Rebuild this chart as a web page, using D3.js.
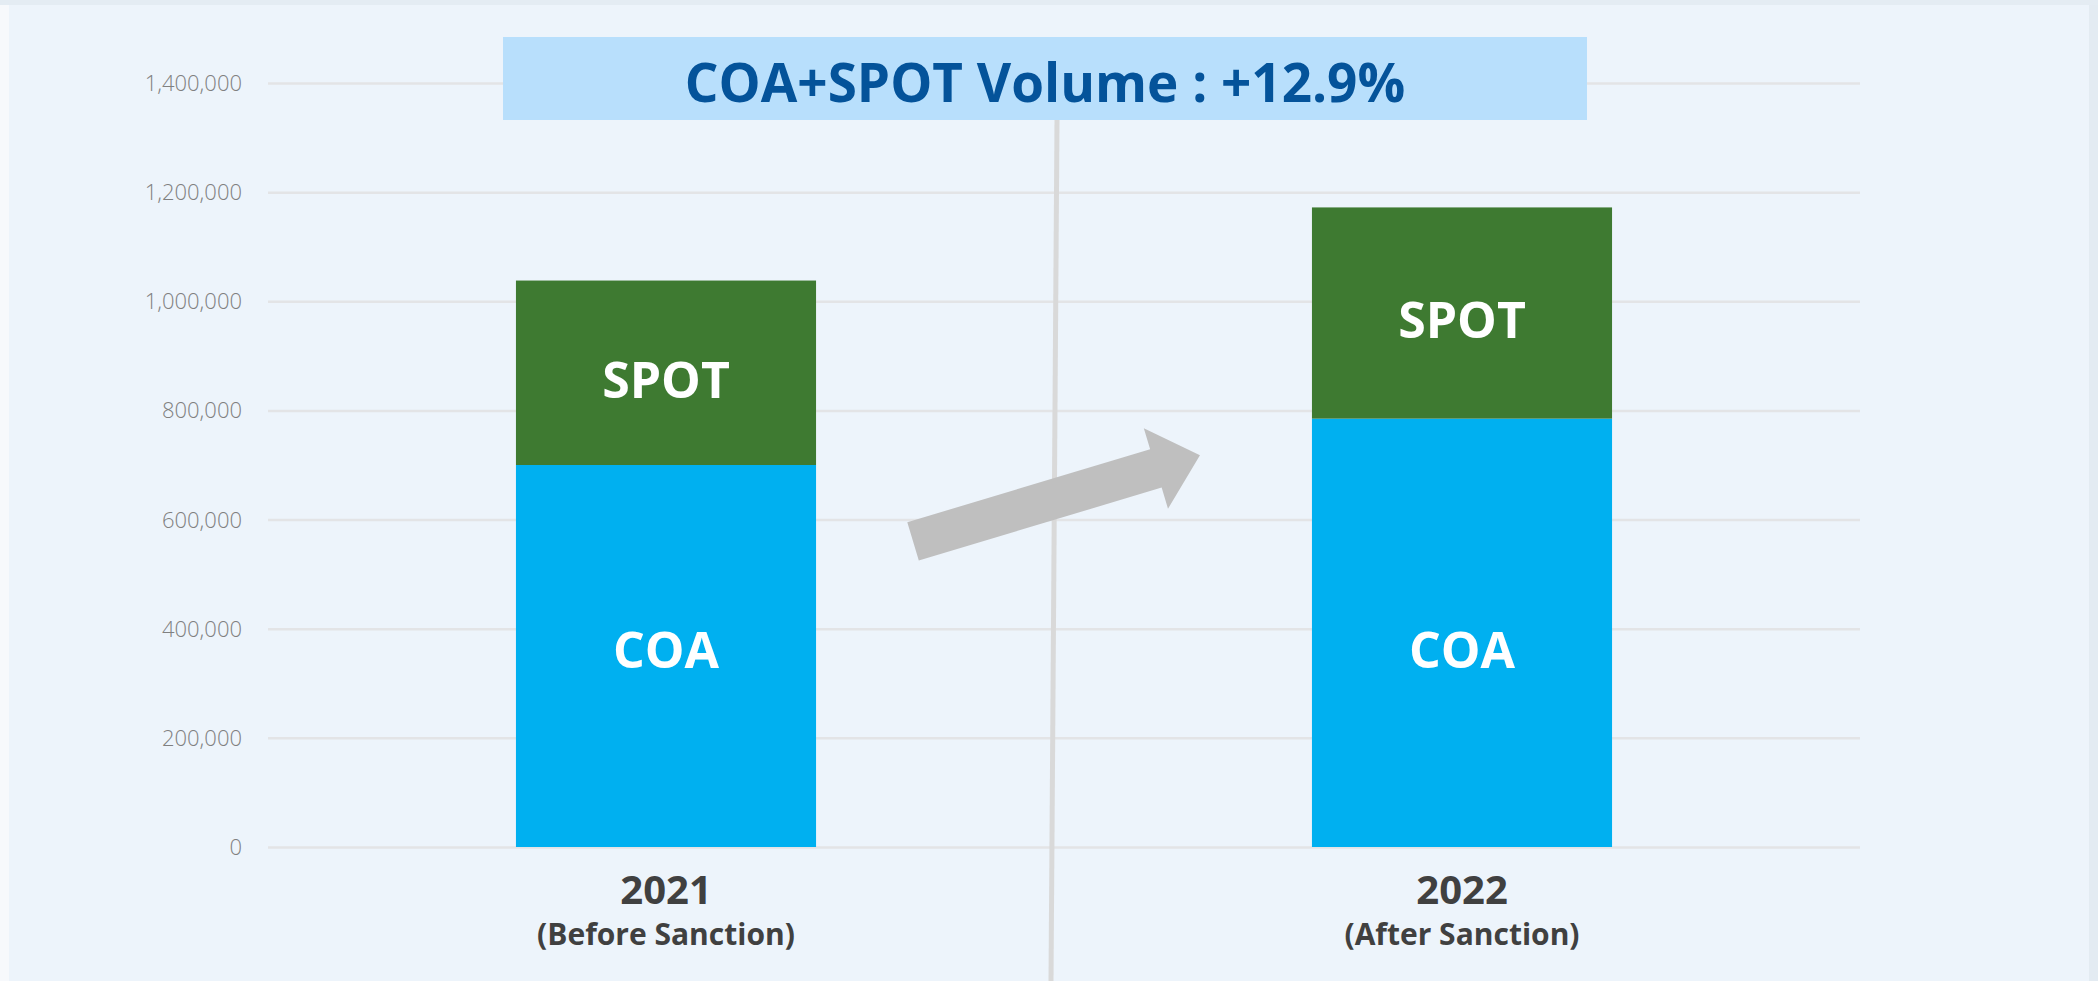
<!DOCTYPE html>
<html>
<head>
<meta charset="utf-8">
<script src="https://cdn.jsdelivr.net/npm/d3@7"></script>
<style>
  body { margin: 0; background: #f7f9fc; overflow: hidden; }
  svg { display: block; font-family: "Open Sans", "Noto Sans", sans-serif; }
</style>
</head>
<body>
<div id="chart"></div>
<script>
const years = ["2021", "2022"];
const periods = ["(Before Sanction)", "(After Sanction)"];
const coaValues = [700000, 785000];
const spotValues = [338000, 387000];
const seriesNames = ["COA", "SPOT"];
const yTickValues = [0, 200000, 400000, 600000, 800000, 1000000, 1200000, 1400000];
const titleText = "COA+SPOT Volume : +12.9%";

const W = 2098, H = 981;
const margin = { top: 83, right: 238, bottom: 134, left: 268 };
const formatNumber = d3.format(",.0f");

const colors = { COA: "#00b0f0", SPOT: "#3e7a31" };

const svg = d3
  .select("#chart")
  .append("svg")
  .attr("width", W)
  .attr("height", H);

// panel background
svg.append("rect")
  .attr("x", 0).attr("y", 0).attr("width", W).attr("height", 5)
  .attr("fill", "#e4ecf3");
svg.append("rect")
  .attr("x", 9).attr("y", 5).attr("width", 2080).attr("height", H - 5)
  .attr("fill", "#edf4fb");
svg.append("rect")
  .attr("x", 2089).attr("y", 5).attr("width", 9).attr("height", H - 5)
  .attr("fill", "#e3ebf2");

const xScale = d3.scaleBand()
  .domain(years)
  .range([margin.left, W - margin.right])
  .paddingInner(0.623)
  .paddingOuter(0.3115);

const yScale = d3.scaleLinear()
  .domain([0, 1400000])
  .range([H - margin.bottom, margin.top]);

const data = years.map((y, i) => ({
  year: y,
  period: periods[i],
  COA: coaValues[i],
  SPOT: spotValues[i],
}));

const stack = d3.stack().keys(seriesNames)(data);

// grid
const yGrid = svg.append("g")
  .attr("transform", "translate(" + margin.left + ",0)")
  .call(d3.axisLeft(yScale).tickValues(yTickValues).tickSize(-(W - margin.left - margin.right)).tickFormat(""));
yGrid.select(".domain").remove();
yGrid.selectAll("line").attr("stroke", "#e3e4e6").attr("stroke-width", 2.5);

// y axis labels
const yAxisG = svg.append("g")
  .attr("transform", "translate(" + (margin.left - 26) + ",0)")
  .call(d3.axisLeft(yScale).tickValues(yTickValues).tickSize(0).tickFormat(formatNumber));
yAxisG.select(".domain").remove();
yAxisG.selectAll("text")
  .attr("x", 0)
  .attr("dy", "0.34em")
  .style("font-family", "'Open Sans', sans-serif")
  .style("font-size", "22px")
  .style("font-weight", 300)
  .attr("fill", "#808080");

// divider between the two periods
const step = xScale.step();
const mid = xScale(years[0]) + xScale.bandwidth() + (step - xScale.bandwidth()) / 2;
svg.append("line")
  .attr("x1", mid - 7).attr("y1", 120)
  .attr("x2", mid - 13).attr("y2", H)
  .attr("stroke", "#d9d9d9")
  .attr("stroke-width", 5);

// bars
const layers = svg.append("g").selectAll("g")
  .data(stack)
  .join("g")
  .attr("fill", (d) => colors[d.key]);

layers.selectAll("rect")
  .data((d) => d)
  .join("rect")
  .attr("x", (d) => xScale(d.data.year))
  .attr("y", (d) => yScale(d[1]))
  .attr("width", xScale.bandwidth())
  .attr("height", (d) => yScale(d[0]) - yScale(d[1]));

// segment labels: COA labels share one line, SPOT labels sit a bit below centre
const coaLabelY = yScale((d3.min(coaValues) + d3.mean(coaValues)) / 4);
stack.forEach((layer) => {
  svg.append("g").selectAll("text")
    .data(layer)
    .join("text")
    .attr("x", (d) => xScale(d.data.year) + xScale.bandwidth() / 2)
    .attr("y", (d) =>
      layer.key === "COA" ? coaLabelY : (yScale(d[0]) + yScale(d[1])) / 2 + 7
    )
    .attr("dy", "0.36em")
    .attr("text-anchor", "middle")
    .attr("fill", "#ffffff")
    .style("font-size", "50px")
    .style("font-weight", 700)
    .text(layer.key);
});

// x labels
const xLab = svg.append("g").selectAll("g")
  .data(data)
  .join("g")
  .attr("transform", (d) => "translate(" + (xScale(d.year) + xScale.bandwidth() / 2) + ",0)");

xLab.append("text")
  .attr("y", yScale(0) + 57)
  .attr("text-anchor", "middle")
  .attr("fill", "#404040")
  .style("font-size", "40px")
  .style("font-weight", 700)
  .text((d) => d.year);

xLab.append("text")
  .attr("y", yScale(0) + 98)
  .attr("text-anchor", "middle")
  .attr("fill", "#404040")
  .style("font-size", "30px")
  .style("font-weight", 700)
  .text((d) => d.period);

// growth arrow
const tailX = xScale(years[0]) + xScale.bandwidth() + 97;
const tailY = yScale(560000);
const tipX = xScale(years[1]) - 112;
const tipY = yScale(718000);
const len = Math.hypot(tipX - tailX, tipY - tailY);
const ang = Math.atan2(tipY - tailY, tipX - tailX) * 180 / Math.PI;
const shaft = 20, headL = 46, headW = 42;
svg.append("path")
  .attr("transform", "translate(" + tailX + "," + tailY + ") rotate(" + ang + ")")
  .attr("d", d3.line()([
    [0, -shaft], [len - headL, -shaft], [len - headL, -headW], [len, 0],
    [len - headL, headW], [len - headL, shaft], [0, shaft]
  ]) + "Z")
  .attr("fill", "#bfbfbf");

// title box
svg.append("rect")
  .attr("x", 503).attr("y", 37)
  .attr("width", 1084).attr("height", 83)
  .attr("fill", "#b8dffc");

svg.append("text")
  .attr("x", 503 + 1084 / 2)
  .attr("y", 102)
  .attr("text-anchor", "middle")
  .attr("fill", "#04539a")
  .style("font-size", "53px")
  .style("font-weight", 700)
  .text(titleText);
</script>
</body>
</html>
